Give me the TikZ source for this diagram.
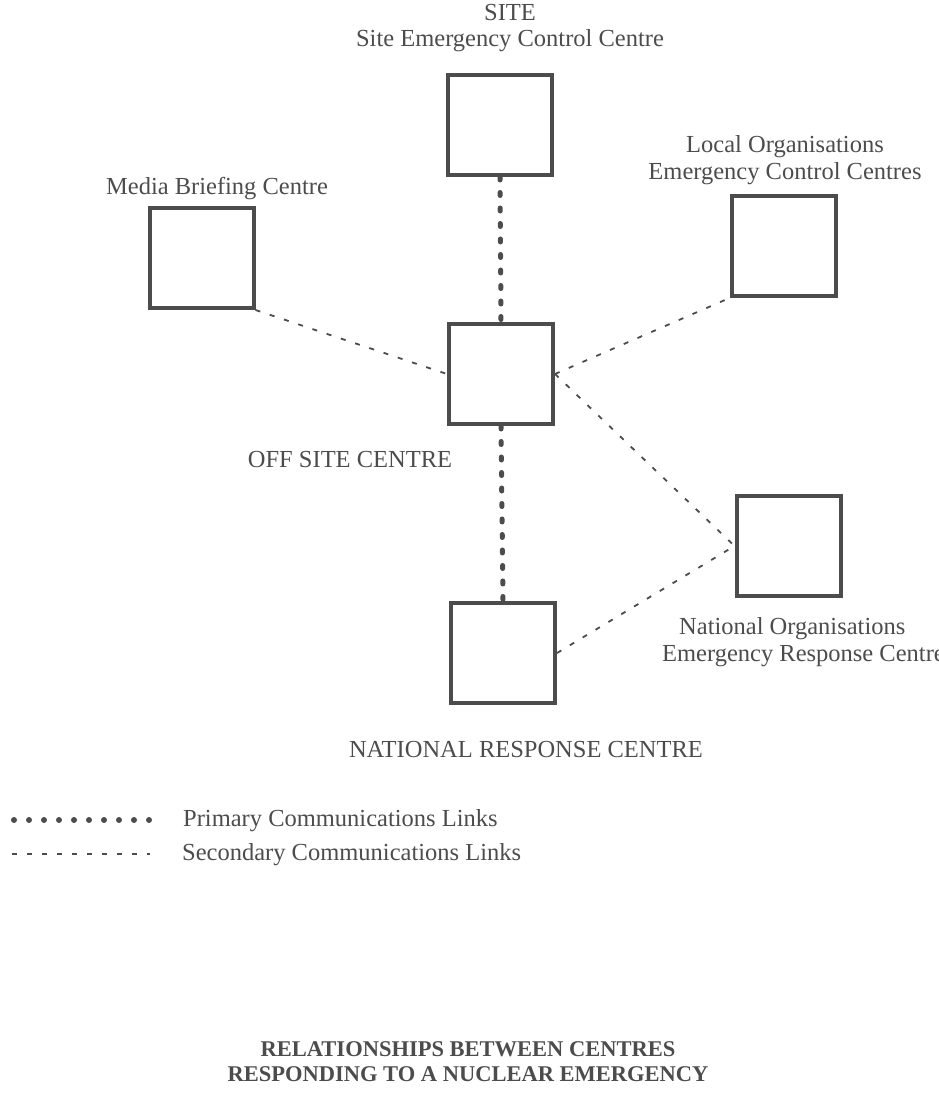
\documentclass[tikz,border=0pt]{standalone}
\usepackage{fontspec}
\setmainfont{Liberation Serif}
\usepackage{xcolor}
\definecolor{ink}{gray}{0.3}
\tikzset{
  centre/.style={draw=ink, line width=4pt, minimum width=104pt, minimum height=100pt, inner sep=0pt},
  label/.style={text=ink, align=center, inner sep=0pt, font=\fontsize{24.5}{26.5}\selectfont},
  primary/.style={draw=ink, line width=5pt, line cap=round, dash pattern=on 3pt off 12.5pt},
  secondary/.style={draw=ink, line width=1.8pt, dash pattern=on 5pt off 10pt}
}
\begin{document}
\begin{tikzpicture}[x=1pt,y=-1pt]
  \useasboundingbox (0,0) rectangle (939,1097);

  % Draw centres
  \node[centre] (site) at (500,125) {};
  \node[centre] (media) at (201.5,258) {};
  \node[centre] (local) at (783.5,246) {};
  \node[centre] (off) at (501,374) {};
  \node[centre] (natorg) at (788.5,546) {};
  \node[centre] (nrc) at (503,653) {};

  % Labels
  \node[label] (sitelbl) at (510,28) {SITE\\Site Emergency Control Centre};
  \node[label] (medialbl) at (217,189) {Media Briefing Centre};
  \node[label] (locallbl) at (785,160) {Local Organisations\\Emergency Control Centres};
  \node[label] (offlbl) at (350,460) {OFF SITE CENTRE};
  \node[label, anchor=west, align=left] (natorglbl) at (662,642) {\hspace*{17pt}National Organisations\\Emergency Response Centre};
  \node[label] (nrclbl) at (526,750) {NATIONAL RESPONSE CENTRE};

  % Primary links
  \draw[primary] (site.south) -- (off.north);
  \draw[primary] (off.south) -- (nrc.north);

  % Secondary links
  \draw[secondary] (media.south east) -- (off.west);
  \draw[secondary] (off.east) -- (local.south west);
  \draw[secondary] (off.east) -- (natorg.west);
  \draw[secondary] (nrc.east) -- (natorg.west);

  % Legend
  \coordinate (p1) at (14,820);
  \coordinate (p2) at (150,820);
  \coordinate (s1) at (12,854);
  \coordinate (s2) at (150,854);
  \draw[primary, line width=6pt, dash pattern=on 0pt off 15pt] (p1) -- (p2);
  \draw[secondary] (s1) -- (s2);
  \node[label, anchor=west] (primlbl) at (183,821) {Primary Communications Links};
  \node[label, anchor=west] (seclbl) at (182,855) {Secondary Communications Links};

  % Title
  \node[label, font=\bfseries\fontsize{22.5}{25}\selectfont] (title) at (468,1062) {RELATIONSHIPS BETWEEN CENTRES\\RESPONDING TO A NUCLEAR EMERGENCY};
\end{tikzpicture}
\end{document}
